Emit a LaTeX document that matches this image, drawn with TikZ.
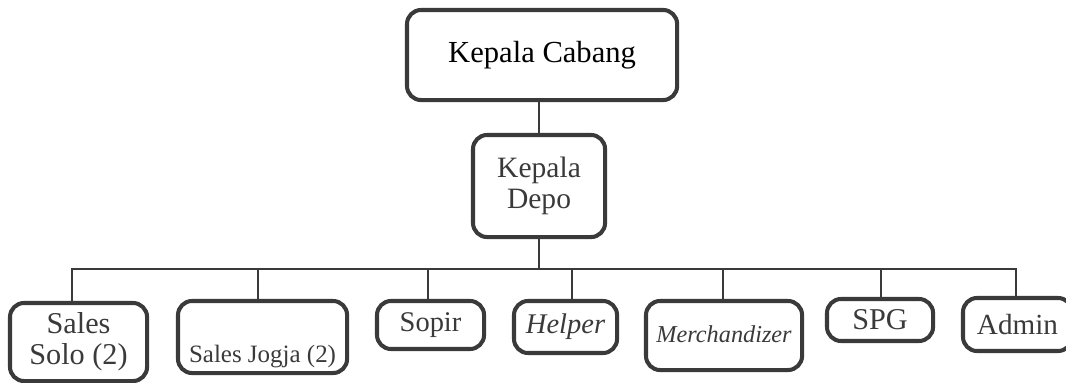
\documentclass[tikz,border=0pt]{standalone}
\usepackage{fontspec}
\setmainfont{Liberation Serif}
\usepackage{tikz}
\usetikzlibrary{positioning,calc}
\definecolor{boxline}{HTML}{3A3A3A}
\definecolor{txtgray}{HTML}{3A3A3A}
\tikzset{
  blk/.style={draw=boxline, line width=1.15pt, rounded corners=4pt, inner sep=0pt, outer sep=0pt, align=center,
    text=txtgray, font=\fontsize{8.4}{8.6}\selectfont, anchor=north west},
  lnk/.style={draw=boxline, line width=0.45pt},
}
\begin{document}
\begin{tikzpicture}[x=0.01cm, y=-0.01cm]
  \useasboundingbox (0,0) rectangle (1066,383);
  % top of the chart
  \node[blk, text=black, minimum width=2.70cm, minimum height=0.90cm, font=\fontsize{8.7}{9}\selectfont] (cabang) at (407,10) {Kepala Cabang};
  \node[blk, minimum width=1.32cm, minimum height=1.02cm] (depo) at (473,135) {Kepala\\Depo};
  % staff row
  \node[blk, minimum width=1.37cm, minimum height=0.78cm, font=\fontsize{8.6}{8.9}\selectfont] (solo) at (10,303) {Sales\\Solo (2)};
  \node[blk, minimum width=1.69cm, text height=0.61cm, text depth=0.11cm, font=\fontsize{7.1}{8}\selectfont] (jogja) at (178,301) {Sales Jogja (2)};
  \node[blk, minimum width=1.07cm, minimum height=0.48cm, font=\fontsize{8.1}{9}\selectfont] (sopir) at (377,301) {Sopir};
  \node[blk, minimum width=1.03cm, minimum height=0.52cm, font=\fontsize{8.1}{9}\selectfont\itshape] (helper) at (514,301) {Helper};
  \node[blk, minimum width=1.56cm, text height=0.41cm, text depth=0.28cm, font=\fontsize{6.9}{8}\selectfont\itshape] (merch) at (646,301) {Merchandizer};
  \node[blk, minimum width=1.06cm, minimum height=0.42cm, font=\fontsize{8.6}{9}\selectfont] (spg) at (827,299) {SPG};
  \node[blk, minimum width=1.09cm, minimum height=0.53cm, font=\fontsize{8.3}{9}\selectfont] (admin) at (963,298) {Admin};
  % connectors
  \coordinate (bus) at (539,269);
  \draw[lnk] (depo.north) -- (depo.north |- cabang.south);
  \draw[lnk] (depo.south) -- (bus);
  \draw[lnk] (solo.north -| 72,0) |- (bus) -| (admin.north -| 1016,0);
  \foreach \who/\xx in {jogja/258, sopir/428, helper/572, merch/723, spg/881}
    \draw[lnk] (\who.north -| \xx,0) -- (\xx,269);
\end{tikzpicture}
\end{document}
